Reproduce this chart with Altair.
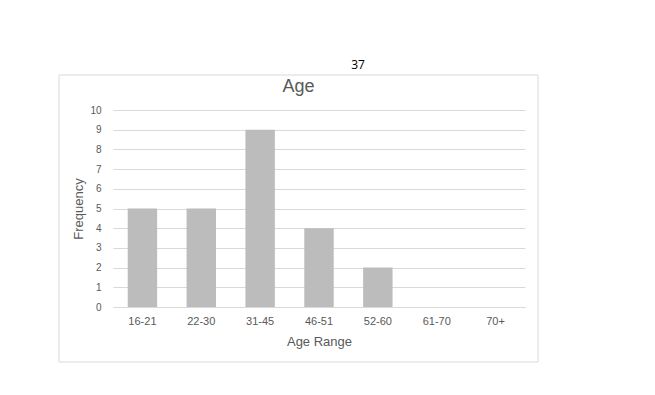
import altair as alt
import pandas as pd

categories = ["16-21", "22-30", "31-45", "46-51", "52-60", "61-70", "70+"]
frequency = [5, 5, 9, 4, 2, 0, 0]
y_ticks = list(range(0, 11))

df = pd.DataFrame({"range": categories, "freq": frequency})

W, H = 412, 197
GRAY = "#595959"
FONT = "Liberation Sans"

base = alt.Chart(df)

frame = base.mark_rect(fill="white", fillOpacity=0, stroke="#d9d9d9", strokeWidth=1).encode(
    x=alt.value(-54), x2=alt.value(425), y=alt.value(-35), y2=alt.value(252)
).transform_filter("datum.range == '16-21'")

bars = base.mark_bar(color="#bcbcbc").encode(
    x=alt.X("range:N", sort=categories, title="Age Range",
            scale=alt.Scale(paddingInner=0.5, paddingOuter=0.25),
            axis=alt.Axis(labelAngle=0, labelFontSize=11, labelColor=GRAY, labelFont=FONT,
                          titleFontSize=13, titleColor=GRAY, titleFont=FONT, titleFontWeight="normal",
                          titlePadding=9, labelPadding=8, ticks=False, domainColor="#d9d9d9",
                          grid=False)),
    y=alt.Y("freq:Q", title="Frequency", scale=alt.Scale(domain=[0, 10], nice=False),
            axis=alt.Axis(values=y_ticks, labelFontSize=10, labelColor=GRAY, labelFont=FONT,
                          titleFontSize=13, titleColor=GRAY, titleFont=FONT, titleFontWeight="normal",
                          titlePadding=4, labelPadding=12, ticks=False, domain=False,
                          gridColor="#d9d9d9", gridWidth=1)),
)

title = base.mark_text(fontSize=18, color=GRAY, font=FONT, baseline="middle").encode(
    x=alt.value(185.5), y=alt.value(-23), text=alt.value("Age")
).transform_filter("datum.range == '16-21'")

page = base.mark_text(fontSize=12, color="black", font="Open Sans", baseline="middle").encode(
    x=alt.value(245), y=alt.value(-45), text=alt.value("37")
).transform_filter("datum.range == '16-21'")

chart = alt.layer(frame, bars, title, page).properties(
    width=W, height=H,
    background="white",
    autosize=alt.AutoSizeParams(type="none"),
    padding={"left": 113, "top": 110, "right": 130, "bottom": 88},
).configure_view(strokeWidth=0, stroke="transparent")

chart.save("out.html", embed_options={"renderer": "svg", "actions": False})
